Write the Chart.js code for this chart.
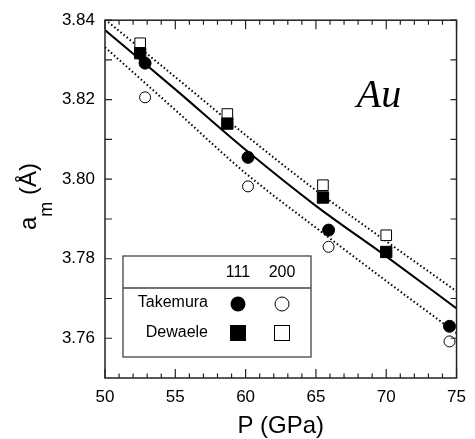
<!DOCTYPE html>
<html>
<head>
<meta charset="utf-8">
<script src="https://cdn.jsdelivr.net/npm/chart.js@4"></script>
<style>
  html, body { margin: 0; padding: 0; background: #fff; }
  #wrap { width: 475px; height: 439px; position: relative; }
</style>
</head>
<body>
<div id="wrap"><canvas id="auChart"></canvas></div>
<script>
// data
const fitP = [50, 55, 60, 65, 70, 75];
const fitMid = [3.8375, 3.8226, 3.8074, 3.7933, 3.7806, 3.7675];
const fitUpper = [3.8402, 3.8257, 3.8111, 3.7972, 3.7844, 3.7718];
const fitLower = [3.8332, 3.8174, 3.8015, 3.7878, 3.7744, 3.7613];

const takemuraP = [52.85, 60.17, 65.9, 74.5];
const takemura111 = [3.8292, 3.8055, 3.7872, 3.7630];
const takemura200 = [3.8206, 3.7982, 3.7830, 3.7592];

const dewaeleP = [52.5, 58.7, 65.5, 70.0];
const dewaele111 = [3.8317, 3.8140, 3.7954, 3.7817];
const dewaele200 = [3.8342, 3.8164, 3.7985, 3.7859];

const xTicks = [50, 55, 60, 65, 70, 75];
const yTicks = [3.76, 3.78, 3.80, 3.82, 3.84];

const SANS = "'Liberation Sans', Arial, Helvetica, sans-serif";

function pts(xs, ys) {
    return xs.map((x, i) => ({ x: x, y: ys[i] }));
}

// frame, inward ticks, legend box, labels
const decor = {
    id: 'decor',
    afterDraw(chart) {
        const ctx = chart.ctx;
        const a = chart.chartArea;
        const xs = chart.scales.x;
        const ys = chart.scales.y;
        ctx.save();
        ctx.strokeStyle = '#222';
        ctx.lineWidth = 1.5;
        ctx.strokeRect(a.left, a.top, a.right - a.left, a.bottom - a.top);

        ctx.lineWidth = 1.2;
        ctx.beginPath();
        for (let p = 50; p <= 75; p++) {
            const px = xs.getPixelForValue(p);
            const len = p % 5 === 0 ? 9 : 4.5;
            ctx.moveTo(px, a.bottom); ctx.lineTo(px, a.bottom - len);
            ctx.moveTo(px, a.top); ctx.lineTo(px, a.top + len);
        }
        for (let k = 376; k <= 384; k++) {
            const py = ys.getPixelForValue(k / 100);
            ctx.moveTo(a.left, py); ctx.lineTo(a.left + 7, py);
            ctx.moveTo(a.right, py); ctx.lineTo(a.right - 6, py);
        }
        ctx.stroke();

        // legend box
        const bx = 123, by = 256, bw = 188, bh = 101;
        ctx.fillStyle = '#fff';
        ctx.fillRect(bx, by, bw, bh);
        ctx.strokeStyle = '#444';
        ctx.lineWidth = 1.3;
        ctx.strokeRect(bx, by, bw, bh);
        ctx.beginPath();
        ctx.moveTo(bx, 288); ctx.lineTo(bx + bw, 288);
        ctx.stroke();

        ctx.fillStyle = '#000';
        ctx.font = '16px ' + SANS;
        ctx.textBaseline = 'middle';
        ctx.textAlign = 'center';
        ctx.fillText('111', 238, 273);
        ctx.fillText('200', 282, 273);
        ctx.textAlign = 'right';
        ctx.fillText('Takemura', 208, 303);
        ctx.fillText('Dewaele', 208, 333);

        ctx.strokeStyle = '#000';
        ctx.lineWidth = 1;
        ctx.beginPath(); ctx.arc(238, 304, 7.5, 0, Math.PI * 2); ctx.fill();
        ctx.beginPath(); ctx.arc(282, 304, 7, 0, Math.PI * 2); ctx.stroke();
        ctx.fillRect(230, 325, 16, 16);
        ctx.strokeRect(274.5, 325.5, 15, 15);

        // Au
        ctx.font = 'italic 40px "Liberation Serif", "Times New Roman", serif';
        ctx.textAlign = 'center';
        ctx.textBaseline = 'alphabetic';
        ctx.fillText('Au', 379, 107);

        // y title  a_m (Å)
        ctx.translate(36, 196.5);
        ctx.rotate(-Math.PI / 2);
        ctx.textAlign = 'left';
        const big = '24px ' + SANS, small = '18px ' + SANS;
        ctx.font = big; const wa = ctx.measureText('a').width;
        ctx.font = small; const wm = ctx.measureText('m').width;
        ctx.font = big; const wr = ctx.measureText(' (Å)').width;
        let x0 = -(wa + wm + wr) / 2;
        ctx.font = big; ctx.fillText('a', x0, 0);
        ctx.font = small; ctx.fillText('m', x0 + wa, 16);
        ctx.font = big; ctx.fillText(' (Å)', x0 + wa + wm, 0);
        ctx.restore();
    }
};

const ctx = document.getElementById('auChart').getContext('2d');
new Chart(ctx, {
    type: 'scatter',
    data: {
        datasets: [
            {
                label: 'Takemura 111',
                data: pts(takemuraP, takemura111),
                pointStyle: 'circle',
                pointRadius: 6,
                backgroundColor: '#000',
                borderColor: '#000',
                borderWidth: 1,
                order: 0
            },
            {
                label: 'Takemura 200',
                data: pts(takemuraP, takemura200),
                pointStyle: 'circle',
                pointRadius: 5.5,
                backgroundColor: '#fff',
                borderColor: '#000',
                borderWidth: 1,
                order: 0
            },
            {
                label: 'Dewaele 111',
                data: pts(dewaeleP, dewaele111),
                pointStyle: 'rect',
                pointRadius: 8,
                backgroundColor: '#000',
                borderColor: '#000',
                borderWidth: 1,
                order: 0
            },
            {
                label: 'Dewaele 200',
                data: pts(dewaeleP, dewaele200),
                pointStyle: 'rect',
                pointRadius: 7.5,
                backgroundColor: '#fff',
                borderColor: '#000',
                borderWidth: 1,
                order: 0
            },
            {
                label: 'fit',
                data: pts(fitP, fitMid),
                showLine: true,
                pointRadius: 0,
                borderColor: '#000',
                borderWidth: 2,
                cubicInterpolationMode: 'monotone',
                order: 1
            },
            {
                label: 'upper',
                data: pts(fitP, fitUpper),
                showLine: true,
                pointRadius: 0,
                borderColor: '#000',
                borderWidth: 2,
                borderDash: [1.5, 2.5],
                cubicInterpolationMode: 'monotone',
                order: 1
            },
            {
                label: 'lower',
                data: pts(fitP, fitLower),
                showLine: true,
                pointRadius: 0,
                borderColor: '#000',
                borderWidth: 2,
                borderDash: [1.5, 2.5],
                cubicInterpolationMode: 'monotone',
                order: 1
            }
        ]
    },
    options: {
        responsive: true,
        maintainAspectRatio: false,
        animation: false,
        layout: { padding: { top: 20, right: 10, left: 0, bottom: 0 } },
        plugins: {
            legend: { display: false },
            tooltip: { enabled: false }
        },
        scales: {
            x: {
                type: 'linear',
                min: 50,
                max: 75,
                afterBuildTicks: (s) => { s.ticks = xTicks.map(v => ({ value: v })); },
                afterFit: (s) => { s.height = 61; },
                grid: { display: false, drawTicks: false },
                border: { display: false },
                ticks: {
                    color: '#000',
                    padding: 9,
                    font: { family: SANS, size: 17 }
                },
                title: {
                    display: true,
                    text: 'P (GPa)',
                    color: '#000',
                    font: { family: SANS, size: 24, lineHeight: 1 },
                    padding: { top: 0, bottom: 1 }
                }
            },
            y: {
                type: 'linear',
                min: 3.75,
                max: 3.84,
                afterBuildTicks: (s) => { s.ticks = yTicks.map(v => ({ value: v })); },
                afterFit: (s) => { s.width = 105; },
                grid: { display: false, drawTicks: false },
                border: { display: false },
                ticks: {
                    color: '#000',
                    padding: 10,
                    font: { family: SANS, size: 17 },
                    callback: (v) => v.toFixed(2)
                }
            }
        }
    },
    plugins: [decor]
});
</script>
</body>
</html>
